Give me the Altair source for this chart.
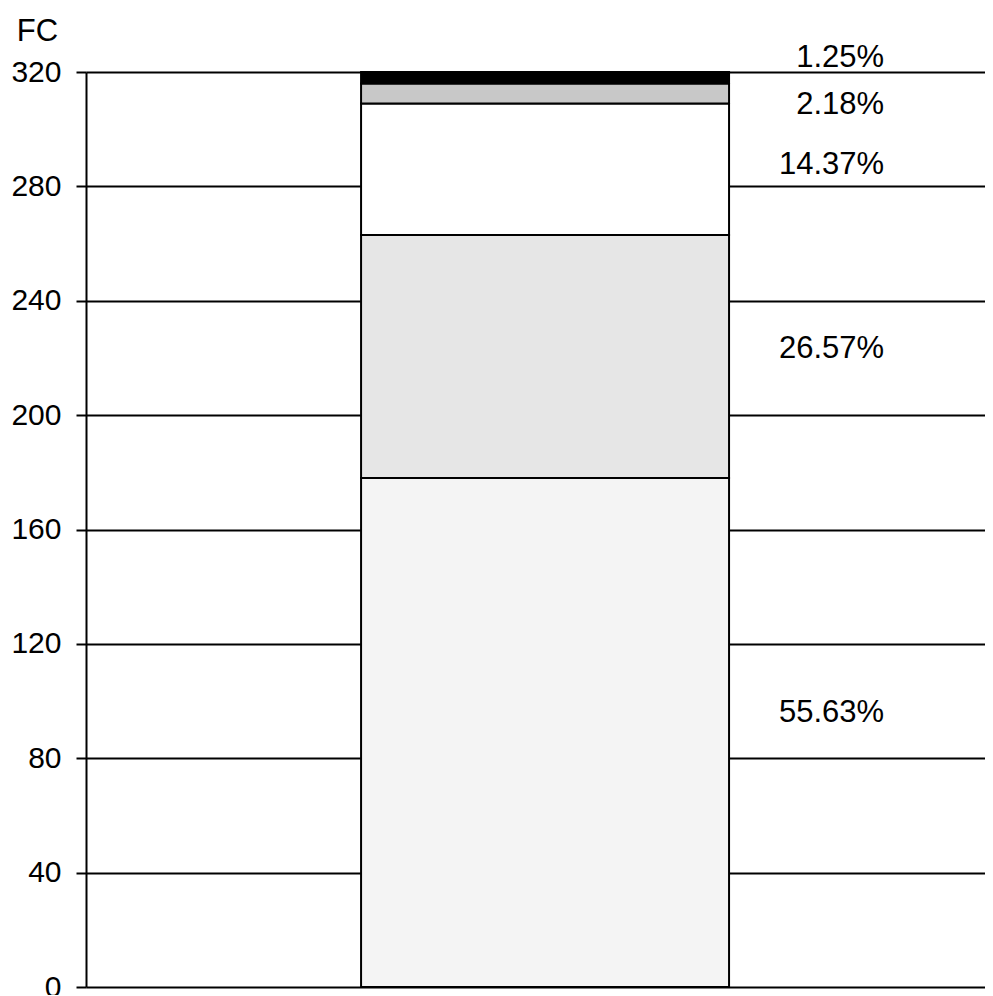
import altair as alt
import pandas as pd

# data
segments = ["A", "B", "C", "D", "E"]          # bottom to top
values = [178, 85, 46, 7, 4]                   # FC units
pct_labels = ["55.63%", "26.57%", "14.37%", "2.18%", "1.25%"]
label_y = [96, 223, 287.5, 308.5, 325]
fills = ["#f4f4f4", "#e6e6e6", "#ffffff", "#c8c8c8", "#000000"]
y_ticks = [0, 40, 80, 120, 160, 200, 240, 280, 320]

df = pd.DataFrame({
    "cat": ["bar"] * len(segments),
    "seg": segments,
    "val": values,
    "order": list(range(len(segments))),
})
lab = pd.DataFrame({"cat": ["bar"] * len(segments), "txt": pct_labels, "ly": label_y})

xscale = alt.Scale(paddingInner=0, paddingOuter=0.7215, align=0.518)

bars = alt.Chart(df).mark_bar(stroke="black", strokeWidth=2).encode(
    x=alt.X("cat:N", scale=xscale, axis=None),
    y=alt.Y("val:Q", stack="zero",
            scale=alt.Scale(domain=[0, 320], nice=False, zero=True),
            axis=alt.Axis(values=y_ticks, title="FC", titleAngle=0,
                          titleAlign="center", titleBaseline="middle",
                          titleX=-49, titleY=-41, titleFontSize=31,
                          titleFontWeight="normal", titleColor="black",
                          titleFont="Liberation Sans",
                          labelFont="Liberation Sans", labelFontSize=30,
                          labelColor="black", labelPadding=15,
                          tickSize=10, tickColor="black", tickWidth=2,
                          domainColor="black", domainWidth=2,
                          grid=True, gridColor="black", gridWidth=2,
                          gridOpacity=1)),
    color=alt.Color("seg:N", scale=alt.Scale(domain=segments, range=fills), legend=None),
    order=alt.Order("order:Q", sort="ascending"),
)

texts = alt.Chart(lab).mark_text(
    align="right", baseline="middle", dx=155, fontSize=31,
    font="Liberation Sans", color="black"
).encode(
    x=alt.X("cat:N", scale=xscale, axis=None, bandPosition=1),
    y=alt.Y("ly:Q"),
    text="txt:N",
)

chart = alt.layer(bars, texts).properties(
    width=899, height=915,
    autosize=alt.AutoSizeParams(type="none"),
    padding={"left": 78, "top": 64, "right": 0, "bottom": 8},
).configure_view(stroke=None).configure_axis(labelFlush=False)

chart.save("out.html", embed_options={"renderer": "svg", "actions": False})
